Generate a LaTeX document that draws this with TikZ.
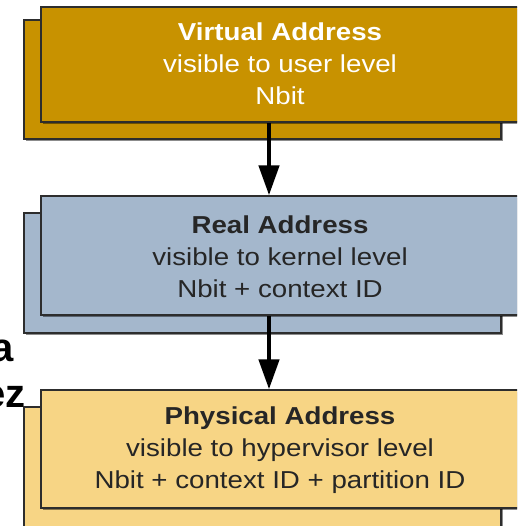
\documentclass[tikz,border=0pt]{standalone}
\usepackage{fontspec}
\setmainfont{Liberation Sans}[FakeStretch=1.13]
\newfontfamily\sidefont{Liberation Sans}
\usetikzlibrary{arrows.meta,shadows}
\definecolor{gold}{RGB}{200,146,0}
\definecolor{steel}{RGB}{164,183,204}
\definecolor{sand}{RGB}{247,213,133}
\definecolor{edge}{RGB}{45,45,45}
\tikzset{
  card/.style={draw=edge, line width=1.3pt, minimum width=477pt, inner sep=0pt,
    drop shadow={shadow xshift=1.8pt, shadow yshift=-1.8pt, fill=black, opacity=.45}},
  boxtext/.style={align=center, font=\fontsize{24.5}{32}\selectfont},
  flow/.style={line width=4.5pt, -{Triangle[length=30pt,width=20pt]}},
  cut/.style={font=\sidefont\bfseries\fontsize{40}{40}\selectfont, inner sep=0pt}
}
\begin{document}
\begin{tikzpicture}[x=1pt,y=-1pt]
\useasboundingbox (0,0) rectangle (517,526);
\clip (0,0) rectangle (517,526);
\fill[white] (0,0) rectangle (517,526);
% cut-off side text
\node[cut, anchor=base east] (sa) at (14,361) {a};
\node[cut, anchor=base east] (sb) at (26,407) {ez};
% back cards
\node[card, fill=gold, minimum height=119pt] (vb) at (262.5,79.5) {};
\node[card, fill=steel, minimum height=120pt] (rb) at (262.5,273) {};
\node[card, fill=sand, minimum height=122pt] (pb) at (262.5,468) {};
% front cards
\node[card, fill=gold, minimum height=115pt, minimum width=478pt] (v) at (280,64.5) {};
\node[boxtext, text=white] (vt) at (280,64) {\textbf{Virtual Address}\\visible to user level\\Nbit};
\node[card, fill=steel, minimum height=119pt, minimum width=478pt] (r) at (280,255.5) {};
\node[boxtext, text=black!85] (rt) at (280,257) {\textbf{Real Address}\\visible to kernel level\\Nbit + context ID};
\node[card, fill=sand, minimum height=118pt, minimum width=478pt] (p) at (280,449) {};
\node[boxtext, text=black!85] (pt) at (280,450) {\textbf{Physical Address}\\visible to hypervisor level\\Nbit + context ID + partition ID};
% arrows
\draw[flow] ([xshift=-11pt]v.south) -- ([xshift=-11pt]r.north);
\draw[flow] ([xshift=-11pt]r.south) -- ([xshift=-11pt]p.north);
\end{tikzpicture}
\end{document}
